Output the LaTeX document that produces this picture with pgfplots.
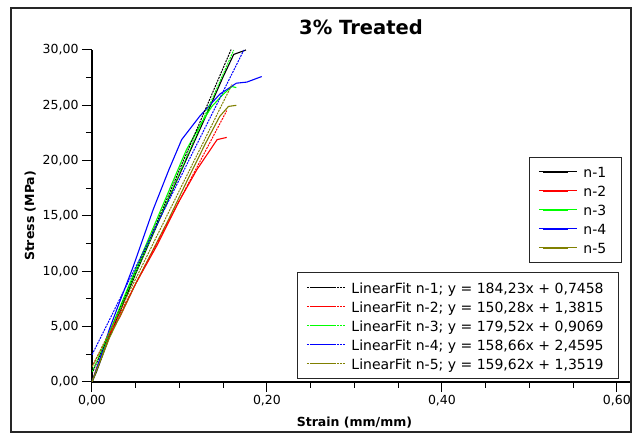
\documentclass[border=0pt]{standalone}
\usepackage{fontspec}
\setmainfont{DejaVu Sans}
\usepackage{pgfplots}
\pgfplotsset{compat=1.18}

\definecolor{cNa}{RGB}{0,0,0}
\definecolor{cNb}{RGB}{255,0,0}
\definecolor{cNc}{RGB}{0,255,0}
\definecolor{cNd}{RGB}{0,0,255}
\definecolor{cNe}{RGB}{128,128,0}

\pgfplotsset{
  frame/.style={scale only axis, width=538pt, height=332pt,
    xmin=0, xmax=0.615, ymin=0, ymax=30,
    at={(92pt,53pt)}, anchor=south west},
  leg/.style={legend cell align=left,
    legend style={draw=black!85, line width=1pt, fill=white,
      font=\fontsize{14}{16}\selectfont, inner xsep=9pt, inner ysep=5.5pt,
      row sep=0.5pt,
      nodes={inner xsep=6pt, inner ysep=2.5pt, text height=12.5pt, text depth=1pt}},
    legend image code/.code={\path (0pt,0pt) -- (38pt,0pt);
      \draw[##1, line width=1.6pt] (4pt,0pt) -- (29pt,0pt);}},
}

\begin{document}
\begin{tikzpicture}
\useasboundingbox (0,0) rectangle (632pt,435pt);
\fill[white] (0,0) rectangle (632pt,435pt);
\draw[black!85, line width=1.5pt] (11pt,3pt) rectangle (631pt,427pt);

% measured curves
\begin{axis}[frame, leg,
  axis x line=bottom, axis y line=left,
  axis line style={line width=1.2pt, -},
  tick align=outside, tick style={black, line width=1pt},
  major tick length=10pt, minor tick length=6pt,
  xtick={0,0.2,0.4,0.6}, minor x tick num=3,
  ytick={0,5,...,30}, minor y tick num=1,
  /pgf/number format/.cd, fixed, fixed zerofill, precision=2, use comma, assume math mode=true,
  /pgfplots/.cd,
  tick label style={font=\fontsize{12.5}{14}\selectfont},
  xlabel={\textbf{Strain (mm/mm)}}, ylabel={\textbf{Stress (MPa)}},
  every axis x label/.style={at={(axis description cs:0.4878,-0.123)}, anchor=center, font=\fontsize{12.5}{14}\selectfont},
  every axis y label/.style={at={(axis description cs:-0.115,0.5)}, rotate=90, anchor=center, font=\fontsize{12.5}{14}\selectfont},
  legend style={at={(axis description cs:0.812,0.679)}, anchor=north west},
]
\addplot[cNa, line width=1.1pt] coordinates {(0,0) (0.005,0.9) (0.02,4.1) (0.05,9.8) (0.08,15.2) (0.11,20.5) (0.13,24.0) (0.15,27.6) (0.162,29.6) (0.176,30.0)};
\addplot[cNb, line width=1.1pt] coordinates {(0,0) (0.005,1.2) (0.02,4.3) (0.032,5.9) (0.05,8.9) (0.074,12.3) (0.1,16.4) (0.12,19.2) (0.143,21.9) (0.154,22.1)};
\addplot[cNc, line width=1.1pt] coordinates {(0,0) (0.005,1.1) (0.02,4.5) (0.05,10.2) (0.08,15.8) (0.108,21.0) (0.125,23.4) (0.137,24.9) (0.15,26.0) (0.16,26.7) (0.165,26.6)};
\addplot[cNd, line width=1.1pt] coordinates {(0,0) (0.005,1.1) (0.02,4.8) (0.03,6.9) (0.047,10.4) (0.07,15.6) (0.088,19.2) (0.1025,21.9) (0.123,24.0) (0.146,26.0) (0.165,27.0) (0.177,27.1) (0.194,27.6)};
\addplot[cNe, line width=1.1pt] coordinates {(0,0) (0.005,1.0) (0.02,4.0) (0.05,8.9) (0.087,14.6) (0.11,18.4) (0.13,21.6) (0.146,24.0) (0.156,24.9) (0.165,25.0)};
\legend{n-1,n-2,n-3,n-4,n-5}
\end{axis}

% linear fits
\begin{axis}[frame, leg, hide axis,
  legend style={at={(axis description cs:0.381,0.330)}, anchor=north west},
]
\addplot[cNa, line width=1pt, dash pattern=on 2pt off 1pt] coordinates {(0,0.7458) (0.159,30.04)};
\addplot[cNb, line width=1pt, dash pattern=on 2pt off 1pt] coordinates {(0,1.3815) (0.154,24.52)};
\addplot[cNc, line width=1pt, dash pattern=on 2pt off 1pt] coordinates {(0,0.9069) (0.162,29.99)};
\addplot[cNd, line width=1pt, dash pattern=on 2pt off 1pt] coordinates {(0,2.4595) (0.1736,30.00)};
\addplot[cNe, line width=1pt, dash pattern=on 2pt off 1pt] coordinates {(0,1.3519) (0.160,26.89)};
\legend{{LinearFit n-1; y = 184,23x + 0,7458},
        {LinearFit n-2; y = 150,28x + 1,3815},
        {LinearFit n-3; y = 179,52x + 0,9069},
        {LinearFit n-4; y = 158,66x + 2,4595},
        {LinearFit n-5; y = 159,62x + 1,3519}}
\end{axis}

\node[font=\fontsize{19.5}{22}\selectfont\bfseries] at (361pt,408pt) {3\% Treated};
\end{tikzpicture}
\end{document}
